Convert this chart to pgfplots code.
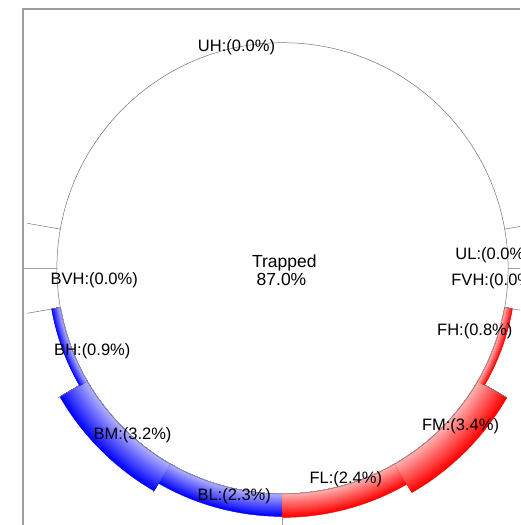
\documentclass[border=0pt]{standalone}
\usepackage{pgfplots}
\usepackage{pgfplotstable}
\pgfplotsset{compat=1.18}
\usepackage{fontspec}
\setmainfont{Liberation Sans}

% bars: start angle, end angle, value (%), colour id (0 blue, 1 red), angle of the drawn edge
\pgfplotstableread{
name a1  a2  val cid edge
BL   240 270 2.3 0   240
BM   210 240 3.2 0   210
BH   190 210 0.9 0   190
FL   270 300 2.4 1   300
FM   300 330 3.4 1   330
FH   330 350 0.8 1   350
}\bars

% radial boundary lines (angle, radius); nan rows separate the lines
\pgfplotstableread{
ang r
170 225.6
170 259
nan nan
180 225.6
180 259
nan nan
190 225.6
190 259
nan nan
210 225.6
210 259
nan nan
240 225.6
240 259
nan nan
270 225.6
270 259
nan nan
300 225.6
300 259
nan nan
330 225.6
330 259
nan nan
350 225.6
350 259
nan nan
0 225.6
0 259
nan nan
10 225.6
10 259
}\radlines

% labels: position (axis units, baseline) and text
\pgfplotstableread{
x y label
-46 216.6 UH:(0.0\%)
210.1 8.3 UL:(0.0\%)
212 -17.7 FVH:(0.0\%)
192.3 -67.7 FH:(0.8\%)
178 -162.7 FM:(3.4\%)
63.3 -215.7 FL:(2.4\%)
-48.3 -232.4 BL:(2.3\%)
-150 -171.7 BM:(3.2\%)
-190.2 -87.7 BH:(0.9\%)
-188.3 -16 BVH:(0.0\%)
}\labels

\pgfplotstableread{
x y label
1.8 1 Trapped
-1 -17.4 87.0\%
}\center

\begin{document}
\begin{tikzpicture}
\begin{axis}[
  x=1pt, y=1pt,
  xmin=-282.5, xmax=237.5,
  ymin=-256.7, ymax=268.3,
  hide axis,
  clip=true,
]
% frame (left and top sides of the outer box)
\addplot[draw=black!38, line width=1.3pt, mark=none]
  coordinates {(-259.5,-256.7) (-259.5,259.3) (237.5,259.3)};

% radial lines
\addplot[draw=black!55, line width=0.5pt, mark=none, data cs=polar,
  unbounded coords=jump]
  table[x=ang, y=r] {\radlines};

% bars (annular sectors with radial gradient)
\addplot[
  scatter, only marks, mark=*, mark size=0pt,
  mark options={draw=none, fill=none},
  visualization depends on={\thisrow{a1}\as\aone},
  visualization depends on={\thisrow{a2}\as\atwo},
  visualization depends on={\thisrow{val}\as\val},
  visualization depends on={\thisrow{edge}\as\edg},
  visualization depends on={\thisrow{cid}\as\cidv},
  scatter/@pre marker code/.code={%
    \pgfmathtruncatemacro{\ci}{\cidv}%
    \ifnum\ci=0 \def\cname{blue}\else\def\cname{red}\fi
    \pgfmathsetmacro{\thick}{9.8*\val}%
    \foreach \k in {24,23,...,1}{%
      \pgfmathsetmacro{\rr}{225.6+\thick*\k/24}%
      \pgfmathtruncatemacro{\pc}{30+70*\k/24}%
      \fill[\cname!\pc] (\aone:225.6pt) arc[start angle=\aone, end angle=\atwo, radius=225.6pt]
        -- (\atwo:\rr pt) arc[start angle=\atwo, end angle=\aone, radius=\rr pt] -- cycle;
    }%
    \pgfmathsetmacro{\ro}{225.6+\thick}%
    \draw[black!55, line width=0.5pt] (\edg:225.6pt) -- (\edg:\ro pt);
  },
  scatter/@post marker code/.code={},
] table[x expr=0, y expr=0] {\bars};

% the circle
\addplot[only marks, mark=o, mark size=225.6pt,
  mark options={draw=black!55, line width=0.5pt}]
  coordinates {(0,0)};

% labels
\addplot[draw=none, mark=none, nodes near coords, point meta=explicit symbolic,
  every node near coord/.style={anchor=base, inner sep=0pt, text=black,
    font=\fontsize{16.5}{19}\selectfont}]
  table[x=x, y=y, meta=label] {\labels};
\addplot[draw=none, mark=none, nodes near coords, point meta=explicit symbolic,
  every node near coord/.style={anchor=base, inner sep=0pt, text=black,
    font=\fontsize{17.5}{19}\selectfont}]
  table[x=x, y=y, meta=label] {\center};
\end{axis}
\pgfresetboundingbox
\useasboundingbox (current axis.south west) rectangle (current axis.north east);
\end{tikzpicture}
\end{document}
